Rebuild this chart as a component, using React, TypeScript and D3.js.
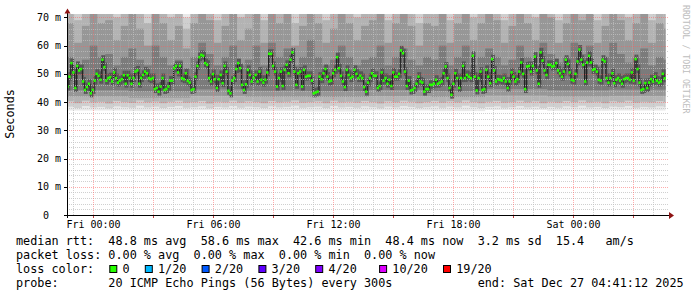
import React from "react";
import * as d3 from "d3";

// ---------------- data ----------------
const graphEnd = Date.UTC(2025, 11, 27, 4, 41, 12);
const graphHours = 30;
const firstSampleSec = 60;
const sampleStepSec = 349;

// median RTT in ms, left to right
const medianThuFri = [45.5,49,53.8,50.5,45,52.8,51.2,51.7,47.3,44.3,45.3,46.5,43.1,44.3,47.6,50,49.3,47.9,55,52.4,47.6,48.5,48.8,47.3,50.5,48.5,46.9,47.6,48.1,49.5,46.5,49.5,48.5,46.5,48.5,50.8,51.2,46.5,48.5,49.6,50.8,50.2,48.5,48.1,48.5,44.6,45,43.7,45.5,48.5,44.3,44.6,45.5,47.6,47.6,52,52.8,50.5,52.8,48.5,48.1,50.2];
const medianFriMorning = [47.5,46.9,44.3,44.6,49,52.8,55.9,56.7,56.4,53.8,53.2,48.5,47.3,49.9,48.1,45,48.1,49.6,46.7,52.8,50.8,44,43.1,47.6,48.5,51.7,53.8,52,46.1,44.3,46.3,51.4,49.6,47.3,48.5,49.6,47.3,50.8,47.9,46.9,47.9,50.5,57.1,57.1,52.8,50.8,45.5,48.5,50.8,45.7,51.4,53.2,50.2,55,57.6,50.8,46.1,50.2,50.8,45.5,51.4,49];
const medianFriAfternoon = [49.3,49.3,47.6,43.1,43.4,43.7,49,48.1,50.2,51.7,49,47.3,47.6,50.2,51.4,55.9,52,49.3,47.3,45.3,51.4,49.6,48.5,49,51.4,50,48.5,49.3,48.5,45.3,43.7,46.9,48.5,50.2,49.3,49.3,45,45.7,50.5,47.6,48.5,46.5,47.9,45.7,50.5,49,49,50,58.3,57.3,50.8,45.7,47.6,44.1,44.3,45,46.5,49,47.3,46.9,43.7,44.6,44.6];
const medianFriEvening = [46.1,46.1,46.5,47.9,46.5,46.9,47.3,50.2,52.6,48.5,45,42.6,46.5,50.2,48.5,45,48.5,52.8,48.5,49.6,49,48.5,56.4,49,44.1,48.5,50.8,44.3,44.6,51.4,49,46.7,55.2,51.2,47.3,48.1,47.9,47.6,48.5,47.3,45,47.3,50.5,49,47.3,48.1,50.8,54,50,44.6,52.6,52.8,50.8,52.8,56.1,51.2,46.5,57.6,54.7,51.2,49.6,53.2];
const medianSat = [53.2,52.6,52.8,53.8,51.2,50.2,49,50.8,55,53.5,50.5,47.9,47.6,50,54.4,58.6,55,53.2,47.3,54,56.4,54,51.4,51.7,50.8,47.9,47.6,55,54.4,48.5,46.9,48.5,50.2,46.7,47.9,48.5,47.6,46.5,48.1,48.5,48.5,47.9,50.5,47.6,55.2,51.7,46.9,44.3,44.6,46.7,45,46.9,48.1,47.3,49,47.6,46.9,47.3,50,48.4];
const medianRtt = [...medianThuFri, ...medianFriMorning, ...medianFriAfternoon, ...medianFriEvening, ...medianSat];

// smoke: ping quantiles per column of 4 samples (ms)
const samplesPerSmokeColumn = 4;
const smokeP2 = [38.4,37.9,38.6,38.1,38.3,37.8,38.5,38.2,38.0,38.7,38.1,38.4,37.9,38.3,38.6,38.0,38.2,38.5,37.8,38.3,38.1,38.6,38.0,38.4,38.2,37.9,38.5,38.1,38.3,38.7,38.0,38.2,38.4,37.9,38.6,38.1,38.3,38.0,38.5,38.2,37.8,38.4,38.1,38.6,38.3,37.9,38.2,38.5,38.0,38.4,38.1,38.7,38.2,37.9,38.3,38.5,38.0,38.2,38.6,38.1,38.4,37.9,38.3,38.0,38.5,38.2,38.7,38.1,38.3,37.9,38.4,38.2,38.6,38.0,38.3,38.1,38.5,38.2];
const smokeP4 = [40.3,39.6,40.5,39.9,40.1,39.5,40.4,40.0,39.7,40.6,39.9,40.2,39.6,40.1,40.5,39.8,40.0,40.4,39.5,40.1,39.9,40.5,39.8,40.3,40.0,39.6,40.4,39.9,40.1,40.6,39.8,40.0,40.3,39.6,40.5,39.9,40.1,39.8,40.4,40.0,39.5,40.3,39.9,40.5,40.1,39.6,40.0,40.4,39.8,40.3,39.9,40.6,40.0,39.6,40.1,40.4,39.8,40.0,40.5,39.9,40.3,39.6,40.1,39.8,40.4,40.0,40.6,39.9,40.1,39.6,40.3,40.0,40.5,39.8,40.1,39.9,40.4,40.0];
const smokeP13 = [56,53,55,60,56,57,53,56,59,55,53,60,56,53,55,52,56,61,57,53,56,60,53,55,60,53,61,56,59,53,56,62,56,53,55,60,56,53,55,56,60,53,56,59,55,53,56,55,60,53,56,60,53,56,59,56,53,55,60,56,53,61,57,54,56,61,57,60,53,56,61,57,54,56,59,53,56,55];
const smokeP15 = [68,61,67,77,68,69,62,67,76,66,60,78,68,62,67,59,68,79,69,61,67,76,62,66,78,61,80,68,77,60,67,79,68,61,66,77,68,62,67,69,76,61,68,75,67,60,68,67,77,61,68,78,62,68,76,69,61,67,77,68,62,79,70,61,68,78,69,76,61,67,80,69,62,68,77,61,68,66];
const smokeP17 = [78,69,77,90,79,80,70,78,88,77,68,92,79,70,77,66,79,92,80,69,78,88,70,77,90,69,94,79,89,68,78,92,79,69,77,89,80,70,78,80,88,69,79,87,78,68,79,77,90,69,79,91,70,79,88,80,69,78,90,79,70,93,81,69,79,91,80,88,69,78,94,80,70,79,89,69,79,77];
const smokeP19 = [95,80,95,100,95,96,82,95,100,94,78,100,95,80,95,70,95,100,96,80,95,100,82,94,100,79,100,95,100,78,95,100,95,80,94,100,95,82,95,96,100,80,95,100,95,77,95,94,100,80,95,100,82,95,100,96,79,95,100,95,82,100,96,80,95,100,96,100,79,95,100,96,82,95,100,80,95,94];
// smoke: lower ping quantiles per 3-hour block (ms)
const lowBlockHours = 3;
const smokeP1 = [37.0,36.8,37.1,36.9,36.7,37.0,36.8,37.2,36.9,37.0];
const smokeP6 = [42.0,41.6,42.2,41.9,41.8,42.1,41.8,42.3,42.0,42.2];
const smokeP8 = [44.2,43.8,44.5,44.0,43.9,44.3,43.9,44.6,44.2,44.4];

const yTickValues = [0, 10, 20, 30, 40, 50, 60, 70];
const yTickLabels = ["0", "10 m", "20 m", "30 m", "40 m", "50 m", "60 m", "70 m"];
const xLabelTimes = [Date.UTC(2025, 11, 26, 0), Date.UTC(2025, 11, 26, 6), Date.UTC(2025, 11, 26, 12), Date.UTC(2025, 11, 26, 18), Date.UTC(2025, 11, 27, 0)];
const xLabelTexts = ["Fri 00:00", "Fri 06:00", "Fri 12:00", "Fri 18:00", "Sat 00:00"];

const legendRtt = "median rtt:  48.8 ms avg  58.6 ms max  42.6 ms min  48.4 ms now  3.2 ms sd  15.4   am/s";
const legendLoss = "packet loss: 0.00 % avg  0.00 % max  0.00 % min  0.00 % now";
const legendLossTitle = "loss color:";
const lossLabels = ["0", "1/20", "2/20", "3/20", "4/20", "10/20", "19/20"];
const lossColors = ["#26ff00", "#00b8ff", "#0059ff", "#5e00ff", "#7e00ff", "#dd00ff", "#ff0000"];
const lossColumns = [13, 18, 26, 34, 42, 51, 60];
const legendProbe = "probe:       20 ICMP Echo Pings (56 Bytes) every 300s            end: Sat Dec 27 04:41:12 2025";
const watermark = "RRDTOOL / TOBI OETIKER";

// ---------------- layout ----------------
const W = 697, H = 297;
const PL = 67, PR = 667, PT = 14, PB = 215;
const MONO = "'DejaVu Sans Mono', monospace";
const CH = 7.1; // legend char advance
const LX = 16;

export default function App() {
  const start = graphEnd - graphHours * 3600e3;
  const x = d3.scaleLinear().domain([start, graphEnd]).range([PL, PR]);
  const y = d3.scaleLinear().domain([0, 71.2]).range([PB, PT]);
  const tAt = (i: number) => start + (firstSampleSec + i * sampleStepSec) * 1000;
  const halfStepPx = (x(start + sampleStepSec * 1000) - x(start)) / 2;
  const N = medianRtt.length;

  const nCols = Math.ceil(N / samplesPerSmokeColumn);
  const cols = d3.range(nCols).map((c) => {
    const i0 = c * samplesPerSmokeColumn;
    const i1 = Math.min(N - 1, i0 + samplesPerSmokeColumn - 1);
    const x0 = x(tAt(i0)) - halfStepPx;
    const x1 = x(tAt(i1)) + halfStepPx;
    const mid = (tAt(i0) + tAt(i1)) / 2;
    const blk = Math.min(smokeP1.length - 1, Math.floor((mid - start) / 3600e3 / lowBlockHours));
    return { x0, x1, blk, c };
  });
  const bands: [(k: any) => number, (k: any) => number, string][] = [
    [(k) => smokeP1[k.blk], () => 80, "#e9e9e9"],
    [(k) => smokeP2[k.c], (k) => smokeP19[k.c], "#cfcfcf"],
    [(k) => smokeP4[k.c], (k) => smokeP17[k.c], "#b3b3b3"],
    [(k) => smokeP6[k.blk], (k) => smokeP15[k.c], "#979797"],
    [(k) => smokeP8[k.blk], (k) => smokeP13[k.c], "#7b7b7b"],
  ];

  const yMinor = d3.range(2, 71, 2).filter((v) => v % 10 !== 0);
  const yMajor = d3.range(10, 71, 10);
  const hours = d3.utcHour.range(new Date(start), new Date(graphEnd));
  const rx = (v: number) => Math.round(v) + 0.5;

  return (
    <svg width={W} height={H} style={{ position: "absolute", left: 0, top: 0, background: "#fff" }} fontFamily={MONO}>
      <defs>
        <clipPath id="plot">
          <rect x={PL} y={PT} width={PR - PL} height={PB - PT} />
        </clipPath>
      </defs>
      <rect width={W} height={H} fill="#fff" />
      <g clipPath="url(#plot)">
        {bands.map(([lo, hi, col], b) => (
          <g key={b}>
            {cols.map((k) => (
              <rect key={k.c} x={k.x0} width={k.x1 - k.x0 + 0.05} y={y(hi(k))} height={y(lo(k)) - y(hi(k))} fill={col} />
            ))}
          </g>
        ))}
        {medianRtt.map((m, i) => {
          const p = i > 0 ? medianRtt[i - 1] : m;
          const lo = Math.min(m, p) - 1.4, hi = Math.max(m, p) + 1.6;
          return <rect key={"c" + i} x={x(tAt(i)) - halfStepPx} width={halfStepPx * 2} y={y(hi)} height={y(lo) - y(hi)} fill="#555" />;
        })}
        {medianRtt.map((m, i) => {
          const p = i > 0 ? medianRtt[i - 1] : m;
          const xx = x(tAt(i)) - halfStepPx + 0.5;
          return <line key={"l" + i} x1={xx} x2={xx} y1={y(Math.min(m, p))} y2={y(Math.max(m, p))} stroke="#222" strokeWidth={1} />;
        })}
      </g>
      {/* grid */}
      <g strokeDasharray="1 1" strokeWidth={1}>
        {yMinor.map((v) => (
          <line key={"ym" + v} x1={PL} x2={PR + 2} y1={rx(y(v))} y2={rx(y(v))} stroke="#c0c0c0" strokeOpacity={0.75} />
        ))}
        {hours.filter((h) => h.getUTCHours() % 3 !== 0).map((h) => (
          <line key={"xm" + +h} x1={rx(x(+h))} x2={rx(x(+h))} y1={PB} y2={PT} stroke="#c0c0c0" strokeOpacity={0.75} />
        ))}
        {yMajor.map((v) => (
          <line key={"yM" + v} x1={PL} x2={PR + 2} y1={rx(y(v))} y2={rx(y(v))} stroke="#ff5a5a" strokeOpacity={0.5} />
        ))}
        {hours.filter((h) => h.getUTCHours() % 3 === 0).map((h) => (
          <line key={"xM" + +h} x1={rx(x(+h))} x2={rx(x(+h))} y1={PB} y2={PT} stroke="#ff5a5a" strokeOpacity={0.5} />
        ))}
      </g>
      {/* median marks */}
      <g clipPath="url(#plot)">
        {medianRtt.map((m, i) => (
          <rect key={"m" + i} x={x(tAt(i)) - halfStepPx} width={halfStepPx * 2 + 0.4} y={y(m) - 1.3} height={2.6} fill={lossColors[0]} />
        ))}
      </g>
      {/* axis ticks */}
      {yMajor.concat([0]).map((v) => (
        <line key={"yt" + v} x1={PL - 3} x2={PL} y1={rx(y(v))} y2={rx(y(v))} stroke="#000" />
      ))}
      {hours.filter((h) => h.getUTCHours() % 3 === 0).map((h) => (
        <line key={"xt" + +h} x1={rx(x(+h))} x2={rx(x(+h))} y1={PB} y2={PB + 3} stroke="#c04040" />
      ))}
      {/* axes */}
      <line x1={PL - 3} x2={670} y1={PB + 0.5} y2={PB + 0.5} stroke="#000" />
      <line x1={PL + 0.5} x2={PL + 0.5} y1={PB + 3} y2={12} stroke="#000" />
      <path d={`M${PL - 2.5},13.5 L${PL + 3.5},13.5 L${PL + 0.5},8.5 Z`} fill="#8e1414" />
      <path d={`M669,212 L669,219 L674,215.5 Z`} fill="#8e1414" />
      {/* y labels */}
      <g fontSize={10} fill="#000" textAnchor="end">
        {yTickValues.map((v, i) => (
          <text key={"yl" + v} x={yTickLabels[i].includes(" ") ? 61 : 49} y={y(v)} dy="0.36em">
            {yTickLabels[i]}
          </text>
        ))}
      </g>
      <g fontSize={10} fill="#000" textAnchor="middle">
        {xLabelTimes.map((t, i) => (
          <text key={"xl" + t} x={rx(x(t))} y={227.5}>
            {xLabelTexts[i]}
          </text>
        ))}
      </g>
      <text transform="translate(14,114) rotate(-90)" textAnchor="middle" fontSize={11.8} fill="#000">
        Seconds
      </text>
      <text transform="translate(683,5) rotate(90)" fontSize={8.2} fill="#bdbdbd">
        {watermark}
      </text>
      {/* legend */}
      <g fontSize={11.8} fill="#000" style={{ whiteSpace: "pre" }}>
        <text x={LX} y={245} xmlSpace="preserve">{legendRtt}</text>
        <text x={LX} y={259} xmlSpace="preserve">{legendLoss}</text>
        <text x={LX} y={273} xmlSpace="preserve">{legendLossTitle}</text>
        {lossLabels.map((l, i) => (
          <g key={l}>
            <rect x={LX + lossColumns[i] * CH + 1.5} y={265.5} width={7} height={7} fill={lossColors[i]} stroke="#000" />
            <text x={LX + (lossColumns[i] + 2) * CH} y={273}>{l}</text>
          </g>
        ))}
        <text x={LX} y={287} xmlSpace="preserve">{legendProbe}</text>
      </g>
    </svg>
  );
}
